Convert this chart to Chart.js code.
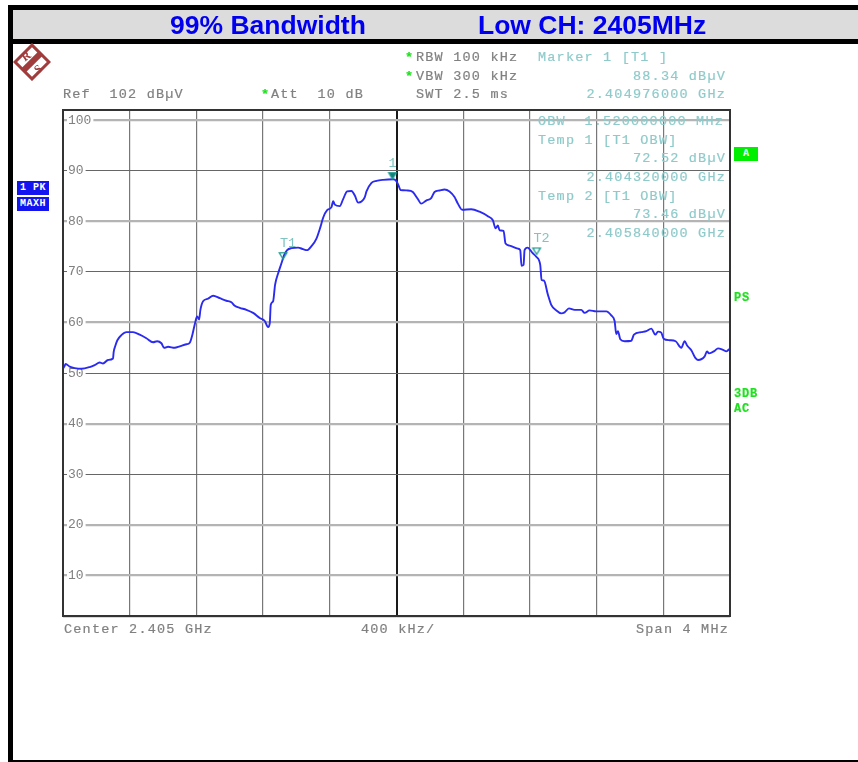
<!DOCTYPE html>
<html><head><meta charset="utf-8">
<style>
html,body{margin:0;padding:0;background:#fff;width:858px;height:762px;overflow:hidden}
#wrap{position:relative;width:858px;height:762px}
canvas{position:absolute;left:0;top:0}
.bar{position:absolute;background:#000}
#band{position:absolute;left:13px;top:10px;width:845px;height:29px;background:#dcdcdc}
.t{position:absolute;white-space:pre;font-family:"Liberation Mono",monospace;font-size:13.5px;line-height:16px;letter-spacing:1.2px;color:#808080;z-index:3;-webkit-text-stroke:0.2px currentColor}
.m{color:#8fcaca}
.r{text-align:right}
.g{color:#1ee01e;font-weight:bold}
.title{position:absolute;font-family:"Liberation Sans",Arial,sans-serif;font-weight:bold;font-size:26.5px;line-height:30px;color:#0000ee;white-space:pre;top:10px;z-index:3}
.tag{position:absolute;left:17px;width:32px;height:14px;background:#1414f0;color:#fff;font:bold 10px/14px "Liberation Mono",monospace;letter-spacing:0.5px;text-align:center;white-space:pre;z-index:3}
#a{position:absolute;left:734px;top:147px;width:24px;height:14px;background:#00ee00;color:#fff;font:bold 10px/14px "Liberation Mono",monospace;text-align:center;z-index:3}
svg{position:absolute;left:13px;top:43px;z-index:3}
</style></head>
<body><div id="wrap">
<div class="bar" style="left:8px;top:5px;width:850px;height:5px"></div>
<div id="band"></div>
<div class="bar" style="left:8px;top:39px;width:850px;height:5px"></div>
<div class="bar" style="left:8px;top:5px;width:5px;height:757px"></div>
<div class="bar" style="left:8px;top:760px;width:850px;height:2px"></div>
<div class="title" style="left:170px">99% Bandwidth</div>
<div class="title" style="left:478px">Low CH: 2405MHz</div>
<svg width="38" height="38" viewBox="0 0 38 38">
<g transform="rotate(-45 19 19)">
<rect x="7" y="7" width="24" height="24" fill="#fff" stroke="#a03c3c" stroke-width="3"/>
<rect x="6" y="16" width="26" height="6" fill="#a03c3c"/>
</g>
<text x="13" y="17" text-anchor="middle" font-family="Liberation Serif" font-weight="bold" font-size="12" fill="#a03c3c" transform="rotate(-35 13 13)">R</text>
<text x="25" y="30" text-anchor="middle" font-family="Liberation Serif" font-weight="bold" font-size="12" fill="#a03c3c" transform="rotate(-35 25 26)">S</text>
</svg>
<canvas id="c" width="858" height="762"></canvas>
<div class="tag" style="top:181px">1 PK</div>
<div class="tag" style="top:197px">MAXH</div>
<div id="a">A</div>
<div class="t" style="left:63px;top:87px">Ref  102 dBµV</div>
<div class="t g" style="left:261px;top:87px">*</div>
<div class="t" style="left:271px;top:87px">Att  10 dB</div>
<div class="t g" style="left:405px;top:50px">*</div>
<div class="t" style="left:416px;top:50px">RBW 100 kHz</div>
<div class="t g" style="left:405px;top:69px">*</div>
<div class="t" style="left:416px;top:69px">VBW 300 kHz</div>
<div class="t" style="left:416px;top:87px">SWT 2.5 ms</div>
<div class="t m" style="left:538px;top:50px">Marker 1 [T1 ]</div>
<div class="t m r" style="right:132px;top:69px">88.34 dBµV</div>
<div class="t m r" style="right:132px;top:87px">2.404976000 GHz</div>
<div class="t m" style="left:538px;top:114px">OBW  1.520000000 MHz</div>
<div class="t m" style="left:538px;top:133px">Temp 1 [T1 OBW]</div>
<div class="t m r" style="right:132px;top:151px">72.52 dBµV</div>
<div class="t m r" style="right:132px;top:170px">2.404320000 GHz</div>
<div class="t m" style="left:538px;top:189px">Temp 2 [T1 OBW]</div>
<div class="t m r" style="right:132px;top:207px">73.46 dBµV</div>
<div class="t m r" style="right:132px;top:226px">2.405840000 GHz</div>
<div class="t" style="left:64px;top:622px">Center 2.405 GHz</div>
<div class="t" style="left:361px;top:622px">400 kHz/</div>
<div class="t" style="left:636px;top:622px">Span 4 MHz</div>
<div class="t g" style="left:734px;top:290px;font-size:12px;letter-spacing:0.8px">PS</div>
<div class="t g" style="left:734px;top:386px;font-size:12px;letter-spacing:0.8px">3DB</div>
<div class="t g" style="left:734px;top:401px;font-size:12px;letter-spacing:0.8px">AC</div>
</div>
<script src="https://cdn.jsdelivr.net/npm/chart.js@4/dist/chart.umd.min.js"></script>
<script>
const freqMHz = [
2403.000,2403.008,2403.016,2403.040,2403.070,2403.110,2403.160,2403.190,2403.220,2403.240,
2403.270,2403.300,2403.304,2403.314,2403.326,2403.350,2403.380,2403.420,2403.460,2403.500,
2403.540,2403.564,2403.590,2403.606,2403.630,2403.670,2403.700,2403.740,2403.760,2403.776,
2403.790,2403.804,2403.816,2403.824,2403.840,2403.870,2403.900,2403.940,2403.980,2404.010,
2404.030,2404.060,2404.100,2404.140,2404.180,2404.210,2404.230,2404.240,2404.246,2404.260,
2404.272,2404.290,2404.310,2404.326,2404.344,2404.370,2404.410,2404.440,2404.464,2404.490,
2404.520,2404.544,2404.560,2404.584,2404.610,2404.620,2404.630,2404.660,2404.680,2404.704,
2404.730,2404.750,2404.770,2404.790,2404.810,2404.820,2404.850,2404.880,2404.920,2404.980,
2404.998,2405.012,2405.024,2405.068,2405.098,2405.128,2405.148,2405.178,2405.208,2405.228,
2405.258,2405.288,2405.318,2405.348,2405.368,2405.394,2405.448,2405.498,2405.548,2405.578,
2405.594,2405.608,2405.618,2405.642,2405.654,2405.678,2405.728,2405.742,2405.750,2405.762,
2405.768,2405.786,2405.814,2405.838,2405.862,2405.870,2405.884,2405.908,2405.928,2405.958,
2405.988,2406.008,2406.034,2406.068,2406.108,2406.128,2406.158,2406.198,2406.258,2406.288,
2406.308,2406.318,2406.328,2406.342,2406.368,2406.408,2406.424,2406.468,2406.498,2406.528,
2406.552,2406.568,2406.588,2406.602,2406.638,2406.674,2406.708,2406.728,2406.744,2406.768,
2406.792,2406.808,2406.848,2406.862,2406.874,2406.908,2406.928,2406.958,2406.978,2406.994,
2407.000];
const levelDb = [
50.9,51.3,51.8,51.3,51.0,50.85,51.2,51.6,52.1,51.9,
52.6,52.9,54.2,55.4,56.5,57.5,58.1,58.1,57.6,56.9,
56.1,56.3,55.9,55.0,55.2,55.0,55.3,55.7,56.0,57.6,
59.6,61.2,60.6,62.5,64.2,64.7,65.3,64.8,64.3,64.0,
63.3,62.9,62.5,61.9,60.9,60.3,59.1,59.9,63.5,64.2,
67.5,69.7,71.7,73.3,74.3,74.7,74.8,74.5,74.3,75.1,
76.6,78.9,80.7,82.2,82.8,84.0,83.3,83.0,84.4,85.9,
86.0,85.1,83.7,83.9,84.8,85.9,87.6,88.0,88.2,88.3,
88.0,87.1,86.2,86.1,85.8,84.4,83.5,84.1,84.6,85.8,
86.1,86.3,85.9,84.8,83.5,82.3,82.4,81.9,81.0,80.2,
78.6,79.2,78.2,78.1,75.6,75.2,74.6,74.3,71.2,71.4,
74.3,74.8,73.8,73.0,71.4,68.4,68.3,65.5,63.5,62.4,
61.8,62.0,62.8,62.5,62.5,61.9,62.4,62.2,62.2,61.4,
60.3,57.7,58.3,56.7,56.3,56.4,57.6,58.1,58.3,58.8,
57.6,58.2,58.0,56.8,56.5,56.3,55.0,56.3,55.4,54.5,
53.0,52.6,53.3,54.3,53.9,54.4,54.9,54.6,54.3,54.7,
54.8];
const markerFreq = [2404.32, 2404.976, 2405.84];
const markerLevel = [72.52, 88.34, 73.46];
const markerNames = ["T1", "1", "T2"];
const gridThick = [100, 80, 60, 40, 20, 10];
const yTicks = [100, 90, 80, 70, 60, 50, 40, 30, 20, 10];

function tri(filled){
  const s=document.createElement('canvas');s.width=16;s.height=16;
  const g=s.getContext('2d');
  g.beginPath();g.moveTo(8,8);g.lineTo(4.2,1.6);g.lineTo(11.8,1.6);g.closePath();
  g.lineWidth=1.3;g.strokeStyle='#1f9a8f';
  if(filled){g.fillStyle='#0f7f78';g.fill();}
  g.stroke();
  return s;
}
const markerStyles=[tri(false),tri(true),tri(false)];

const frame={id:'frame',
  afterDatasetsDraw(ch){
    const {ctx,chartArea:a,scales:{x,y}}=ch;
    ctx.save();
    ctx.strokeStyle='#333';ctx.lineWidth=2;
    ctx.strokeRect(a.left,a.top,a.right-a.left,a.bottom-a.top);
    ctx.strokeStyle='#d8d8d8';ctx.lineWidth=1;
    ctx.beginPath();ctx.moveTo(a.left,a.bottom+1.5);ctx.lineTo(a.right,a.bottom+1.5);ctx.stroke();
    ctx.font='13.5px "Liberation Mono",monospace';ctx.fillStyle='#7fc4c0';ctx.textAlign='center';ctx.textBaseline='bottom';
    markerNames.forEach((n,i)=>{
      ctx.fillText(n,x.getPixelForValue(markerFreq[i])+(n==='1'?0:5),y.getPixelForValue(markerLevel[i])-9);
    });
    ctx.restore();
  }};

new Chart(document.getElementById('c'),{
  type:'line',
  data:{datasets:[
    {label:'Trace 1 PK MAXH',data:freqMHz.map((f,i)=>({x:f,y:levelDb[i]})),borderColor:'#2a2af0',borderWidth:1.9,pointRadius:0,cubicInterpolationMode:'monotone',borderJoinStyle:'round',order:2},
    {label:'Markers',data:markerFreq.map((f,i)=>({x:f,y:markerLevel[i]})),showLine:false,pointStyle:markerStyles,pointRadius:8,order:1}
  ]},
  options:{
    responsive:false,animation:false,
    layout:{padding:{left:63,right:128,top:110,bottom:146}},
    plugins:{legend:{display:false},tooltip:{enabled:false}},
    scales:{
      x:{type:'linear',min:2403,max:2407,
        afterFit(s){s.height=0;},
        afterBuildTicks(s){s.ticks=[2403.4,2403.8,2404.2,2404.6,2405,2405.4,2405.8,2406.2,2406.6].map(v=>({value:v}));},
        ticks:{display:false},
        border:{display:false},
        grid:{drawTicks:false,
          color:c=>c.tick&&c.tick.value===2405?'#1a1a1a':'#777',
          lineWidth:c=>c.tick&&c.tick.value===2405?2:1.2}},
      y:{type:'linear',min:2,max:102,
        afterFit(s){s.width=0;},
        afterBuildTicks(s){s.ticks=yTicks.map(v=>({value:v}));},
        border:{display:false},
        ticks:{mirror:true,padding:5,z:0,color:'#808080',
          font:{family:'"Liberation Mono",monospace',size:13},
          showLabelBackdrop:true,backdropColor:'#fff',backdropPadding:{left:1,right:2,top:0,bottom:0},
          callback:v=>String(v)},
        grid:{drawTicks:false,
          color:c=>c.tick&&gridThick.includes(c.tick.value)?'#b4b4b4':'#666',
          lineWidth:c=>c.tick&&gridThick.includes(c.tick.value)?2.2:1.1}}
    }
  },
  plugins:[frame]
});
</script>
</body></html>
